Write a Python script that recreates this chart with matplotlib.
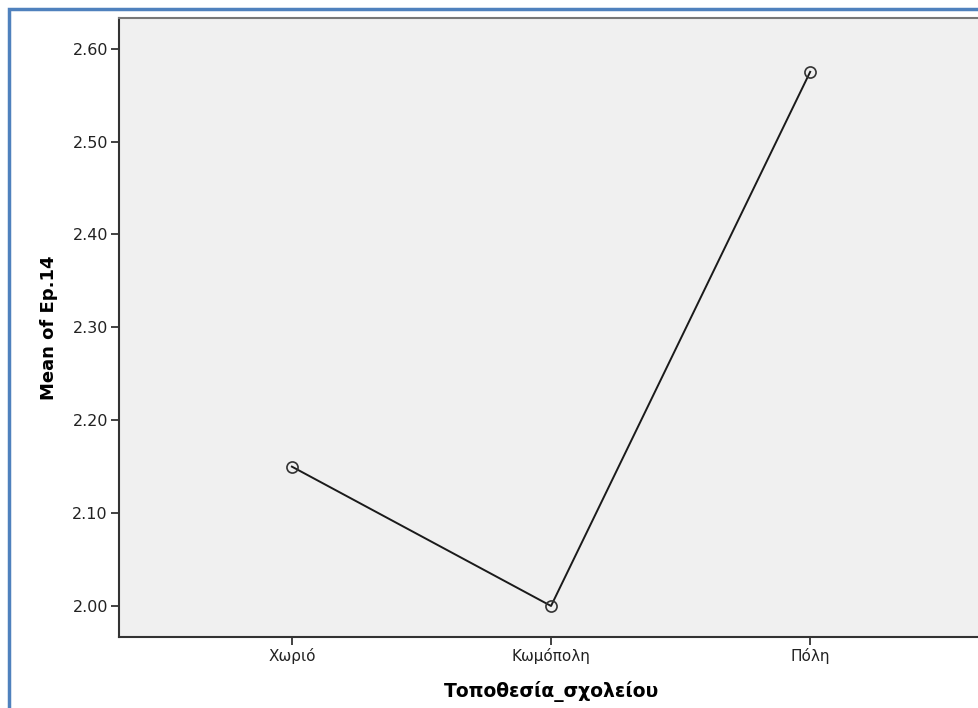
import matplotlib
matplotlib.use('Agg')
import matplotlib.pyplot as plt
from matplotlib.patches import Rectangle

# Mean of Ep.14 by school location
categories = ['Χωριό', 'Κωμόπολη', 'Πόλη']
means = [2.15, 2.00, 2.575]
yticks = [2.00, 2.10, 2.20, 2.30, 2.40, 2.50, 2.60]

fig = plt.figure(figsize=(9.79, 7.08), dpi=100)
ax = fig.add_axes([0.1216, 0.1003, 0.8825, 0.8743])
ax.set_facecolor('#f0f0f0')

x = list(range(len(categories)))
ax.plot(x, means, color='#1a1a1a', lw=1.4, zorder=2)
ax.plot(x, means, 'o', ms=8, mfc='none', mec='#333333', mew=1.2, zorder=3)

ax.set_xlim(-0.667, 2.667)
ax.set_ylim(1.9666, 2.633)
ax.set_xticks(x)
ax.set_xticklabels(categories, fontsize=11, color='#222222')
ax.set_yticks(yticks)
ax.set_yticklabels([f'{v:.2f}' for v in yticks], fontsize=11.5, color='#222222')
ax.tick_params(axis='both', length=6, width=1.3, color='#333333', pad=2)

for side in ['left', 'bottom']:
    ax.spines[side].set_color('#333333')
    ax.spines[side].set_linewidth(1.5)
ax.spines['top'].set_color('#777777')
ax.spines['top'].set_linewidth(1.5)
ax.spines['right'].set_visible(False)

ax.set_xlabel('Τοποθεσία_σχολείου', fontsize=13.5, fontweight='bold', labelpad=12)
ax.set_ylabel('Mean of Ep.14', fontsize=13, fontweight='bold', labelpad=10)

# blue frame around the output, open at right and bottom (cropped)
fig.patches.append(Rectangle((9 / 979, -0.05), 1.1, 1 - 9 / 708 + 0.05,
                             transform=fig.transFigure, fill=False,
                             edgecolor='#4f81bd', lw=2.5, zorder=10))

fig.savefig('out.png', dpi=100)
